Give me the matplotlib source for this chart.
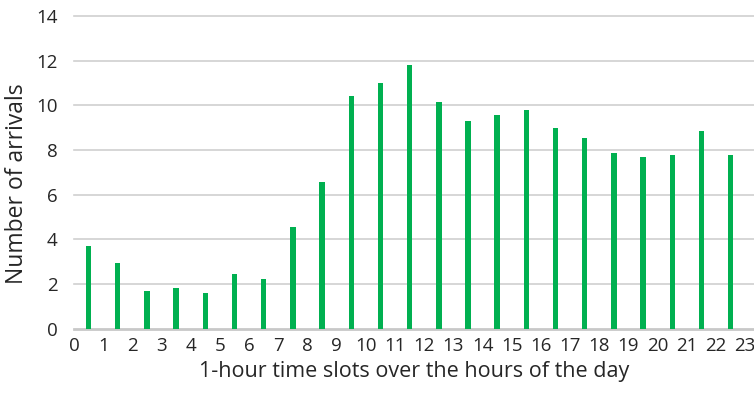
import matplotlib
matplotlib.use("Agg")
import matplotlib.pyplot as plt
import numpy as np

# Hourly arrivals, one bar per 1-hour slot
slots = list(range(23))
arrivals = [3.70, 2.93, 1.70, 1.83, 1.60, 2.45, 2.21, 4.54, 6.58, 10.41, 10.98,
            11.81, 10.13, 9.29, 9.57, 9.77, 8.97, 8.52, 7.85, 7.67, 7.76, 8.83, 7.76]
x_ticks = list(range(24))
y_ticks = [0, 2, 4, 6, 8, 10, 12, 14]

plt.rcParams['font.family'] = ['Open Sans', 'DejaVu Sans']

fig = plt.figure(figsize=(7.54, 3.94), dpi=100)
ax = fig.add_axes([74 / 754, 1 - 328.7 / 394, 1 - 74 / 754, (328.7 - 16) / 394])

ax.bar(np.array(slots) + 0.5, arrivals, width=0.185, color='#00b050', zorder=3)

for yv in y_ticks:
    ax.axhline(yv, color='#d0d0d0' if yv else '#c8c8c8', lw=1.2 if yv else 2.0,
               zorder=1, clip_on=False)

ax.set_xlim(0, 23.3)
ax.set_ylim(0, 14)
ax.set_xticks(x_ticks)
ax.set_yticks(y_ticks)
ax.tick_params(axis='both', length=0, labelsize=13.5, colors='#262626')
ax.tick_params(axis='x', pad=6)
ax.tick_params(axis='y', pad=12)
for s in ax.spines.values():
    s.set_visible(False)

ax.set_xlabel('1-hour time slots over the hours of the day', fontsize=15.5,
              color='#262626')
ax.set_ylabel('Number of arrivals', fontsize=16.5, color='#262626')
ax.xaxis.set_label_coords(0.5, -0.103)
ax.yaxis.set_label_coords(-0.066, 0.463)

fig.savefig('out.png', dpi=100)
